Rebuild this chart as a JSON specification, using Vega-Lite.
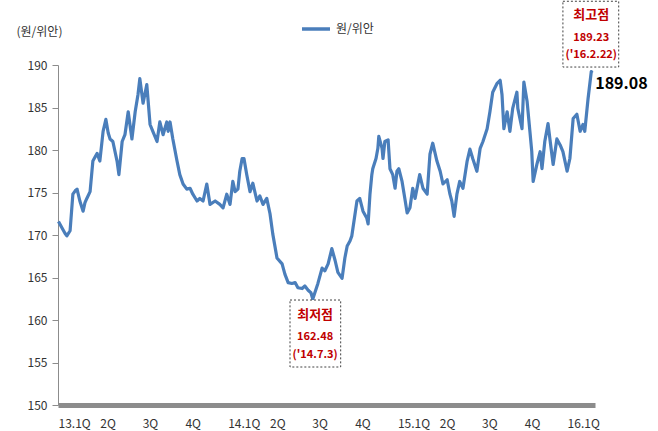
{
  "$schema": "https://vega.github.io/schema/vega-lite/v6.json",
  "width": 537,
  "height": 340,
  "autosize": {"type": "none"},
  "padding": {"left": 58, "top": 65, "right": 63, "bottom": 26},
  "background": "white",
  "config": {"view": {"stroke": null}, "font": "Noto Sans CJK KR"},
  "datasets": {
    "fx": [
      {"d":"2013-01-02","v":171.6},{"d":"2013-01-10","v":170.8},{"d":"2013-01-16","v":170.2},{"d":"2013-01-20","v":169.9},
      {"d":"2013-01-27","v":170.5},{"d":"2013-02-02","v":174.8},{"d":"2013-02-07","v":175.2},{"d":"2013-02-11","v":175.4},
      {"d":"2013-02-17","v":174.0},{"d":"2013-02-24","v":172.8},{"d":"2013-02-28","v":173.8},{"d":"2013-03-04","v":174.3},
      {"d":"2013-03-11","v":175.1},{"d":"2013-03-17","v":178.7},{"d":"2013-03-22","v":179.2},{"d":"2013-03-26","v":179.6},
      {"d":"2013-04-01","v":178.7},{"d":"2013-04-08","v":182.2},{"d":"2013-04-14","v":183.6},{"d":"2013-04-19","v":182.0},
      {"d":"2013-04-23","v":181.3},{"d":"2013-04-29","v":181.0},{"d":"2013-05-08","v":178.7},{"d":"2013-05-12","v":177.1},
      {"d":"2013-05-19","v":181.0},{"d":"2013-05-25","v":181.8},{"d":"2013-06-01","v":184.5},{"d":"2013-06-09","v":181.3},
      {"d":"2013-06-16","v":184.5},{"d":"2013-06-22","v":186.5},{"d":"2013-06-26","v":188.4},{"d":"2013-07-03","v":185.5},
      {"d":"2013-07-11","v":187.7},{"d":"2013-07-18","v":183.0},{"d":"2013-07-24","v":182.2},{"d":"2013-08-02","v":181.0},
      {"d":"2013-08-08","v":183.3},{"d":"2013-08-15","v":181.8},{"d":"2013-08-23","v":183.3},{"d":"2013-08-26","v":182.2},
      {"d":"2013-08-30","v":183.3},{"d":"2013-09-05","v":181.3},{"d":"2013-09-14","v":178.7},{"d":"2013-09-20","v":177.1},
      {"d":"2013-09-27","v":176.0},{"d":"2013-10-05","v":175.4},{"d":"2013-10-12","v":175.5},{"d":"2013-10-18","v":174.8},
      {"d":"2013-10-27","v":174.0},{"d":"2013-11-02","v":174.3},{"d":"2013-11-09","v":174.0},{"d":"2013-11-17","v":176.0},
      {"d":"2013-11-24","v":173.6},{"d":"2013-12-05","v":174.0},{"d":"2013-12-15","v":173.6},{"d":"2013-12-22","v":173.2},
      {"d":"2013-12-30","v":174.8},{"d":"2014-01-06","v":173.6},{"d":"2014-01-12","v":176.3},{"d":"2014-01-17","v":175.1},
      {"d":"2014-01-23","v":175.4},{"d":"2014-01-27","v":177.5},{"d":"2014-02-01","v":179.0},{"d":"2014-02-05","v":179.0},
      {"d":"2014-02-11","v":177.1},{"d":"2014-02-18","v":175.1},{"d":"2014-02-24","v":176.1},{"d":"2014-03-05","v":174.0},
      {"d":"2014-03-11","v":174.6},{"d":"2014-03-18","v":173.6},{"d":"2014-03-26","v":174.3},{"d":"2014-04-02","v":172.5},
      {"d":"2014-04-08","v":170.1},{"d":"2014-04-17","v":167.3},{"d":"2014-04-28","v":166.6},{"d":"2014-05-04","v":165.4},
      {"d":"2014-05-11","v":164.4},{"d":"2014-05-19","v":164.3},{"d":"2014-05-26","v":164.4},{"d":"2014-06-01","v":163.8},
      {"d":"2014-06-10","v":163.7},{"d":"2014-06-16","v":164.0},{"d":"2014-06-23","v":163.5},{"d":"2014-06-29","v":163.2},
      {"d":"2014-07-03","v":162.48},{"d":"2014-07-14","v":164.3},{"d":"2014-07-23","v":166.1},{"d":"2014-07-29","v":165.8},
      {"d":"2014-08-05","v":166.6},{"d":"2014-08-13","v":168.4},{"d":"2014-08-20","v":167.0},{"d":"2014-08-26","v":165.6},
      {"d":"2014-09-04","v":164.9},{"d":"2014-09-10","v":167.3},{"d":"2014-09-15","v":168.7},{"d":"2014-09-21","v":169.3},
      {"d":"2014-09-25","v":169.9},{"d":"2014-10-06","v":174.0},{"d":"2014-10-12","v":174.3},{"d":"2014-10-19","v":172.8},
      {"d":"2014-10-27","v":172.0},{"d":"2014-10-30","v":171.3},{"d":"2014-11-03","v":174.8},{"d":"2014-11-07","v":177.1},
      {"d":"2014-11-09","v":177.8},{"d":"2014-11-16","v":179.0},{"d":"2014-11-20","v":180.2},{"d":"2014-11-22","v":181.6},
      {"d":"2014-11-29","v":180.2},{"d":"2014-12-01","v":179.0},{"d":"2014-12-05","v":181.0},{"d":"2014-12-12","v":181.2},
      {"d":"2014-12-16","v":177.8},{"d":"2014-12-22","v":177.1},{"d":"2014-12-27","v":175.5},{"d":"2014-12-31","v":177.5},
      {"d":"2015-01-04","v":177.8},{"d":"2015-01-11","v":176.3},{"d":"2015-01-17","v":174.3},{"d":"2015-01-22","v":172.6},
      {"d":"2015-01-28","v":173.2},{"d":"2015-02-03","v":175.5},{"d":"2015-02-08","v":174.3},{"d":"2015-02-14","v":176.0},
      {"d":"2015-02-18","v":177.1},{"d":"2015-02-25","v":175.5},{"d":"2015-03-06","v":174.8},{"d":"2015-03-12","v":179.5},
      {"d":"2015-03-18","v":180.8},{"d":"2015-03-27","v":178.7},{"d":"2015-04-03","v":177.5},{"d":"2015-04-09","v":176.0},
      {"d":"2015-04-18","v":176.5},{"d":"2015-04-24","v":174.8},{"d":"2015-04-28","v":174.0},{"d":"2015-05-03","v":172.2},
      {"d":"2015-05-09","v":174.8},{"d":"2015-05-15","v":176.3},{"d":"2015-05-22","v":175.5},{"d":"2015-05-31","v":178.7},
      {"d":"2015-06-06","v":180.1},{"d":"2015-06-12","v":179.0},{"d":"2015-06-21","v":177.5},{"d":"2015-06-28","v":180.2},
      {"d":"2015-07-04","v":181.0},{"d":"2015-07-13","v":182.5},{"d":"2015-07-19","v":184.5},{"d":"2015-07-25","v":186.8},
      {"d":"2015-08-03","v":187.8},{"d":"2015-08-10","v":188.2},{"d":"2015-08-14","v":186.5},{"d":"2015-08-18","v":182.5},
      {"d":"2015-08-25","v":184.5},{"d":"2015-08-31","v":182.2},{"d":"2015-09-06","v":184.9},{"d":"2015-09-15","v":186.8},
      {"d":"2015-09-17","v":184.9},{"d":"2015-09-26","v":182.5},{"d":"2015-09-30","v":188.0},{"d":"2015-10-07","v":185.7},
      {"d":"2015-10-13","v":182.2},{"d":"2015-10-17","v":179.8},{"d":"2015-10-20","v":176.3},{"d":"2015-10-28","v":178.3},
      {"d":"2015-11-04","v":179.8},{"d":"2015-11-08","v":177.8},{"d":"2015-11-14","v":181.0},{"d":"2015-11-21","v":183.1},
      {"d":"2015-11-25","v":181.3},{"d":"2015-12-02","v":178.3},{"d":"2015-12-10","v":181.3},{"d":"2015-12-17","v":180.6},
      {"d":"2015-12-23","v":179.8},{"d":"2016-01-01","v":177.5},{"d":"2016-01-07","v":179.0},{"d":"2016-01-14","v":183.7},
      {"d":"2016-01-22","v":184.2},{"d":"2016-01-29","v":182.2},{"d":"2016-02-04","v":183.0},{"d":"2016-02-08","v":182.2},
      {"d":"2016-02-15","v":186.0},{"d":"2016-02-22","v":189.23},{"d":"2016-02-24","v":189.08}
    ],
    "boxes": [
      {"start":"2015-12-23","end":"2016-04-21","lo":189.76,"hi":197.5},
      {"start":"2014-05-15","end":"2014-09-01","lo":154.47,"hi":162.35}
    ],
    "notes": [
      {"d":"2016-02-22","v":195.88,"t":"최고점","role":"head"},
      {"d":"2016-02-22","v":193.18,"t":"189.23","role":"sub"},
      {"d":"2016-02-22","v":191.18,"t":"('16.2.22)","role":"sub"},
      {"d":"2014-07-08","v":160.59,"t":"최저점","role":"head"},
      {"d":"2014-07-08","v":158.0,"t":"162.48","role":"sub"},
      {"d":"2014-07-08","v":155.88,"t":"('14.7.3)","role":"sub"}
    ],
    "last": [{"d":"2016-02-24","v":189.08,"t":"189.08"}]
  },
  "layer": [
    {
      "data": {"name": "fx"},
      "mark": {"type": "line", "strokeWidth": 3.2, "strokeJoin": "round"},
      "encoding": {
        "x": {
          "field": "d", "type": "temporal",
          "scale": {"type": "utc", "domain": [1356998400000, 1456790400000]},
          "axis": {
            "values": [1356998400000,1364774400000,1372636800000,1380585600000,1388534400000,1396310400000,1404172800000,1412121600000,1420070400000,1427846400000,1435708800000,1443657600000,1451606400000],
            "labelExpr": "utcmonth(datum.value)==0 ? utcFormat(datum.value,'%y') + '.1Q' : (floor(utcmonth(datum.value)/3)+1) + 'Q'",
            "labelAlign": "left", "labelFlush": false, "labelOverlap": false,
            "ticks": false, "grid": false,
            "domainColor": "#8c8c8c", "domainWidth": 5,
            "labelPadding": 13, "labelFontSize": 12, "labelColor": "#333333",
            "title": null
          }
        },
        "y": {
          "field": "v", "type": "quantitative",
          "scale": {"domain": [150, 190], "nice": false, "zero": false},
          "axis": {
            "values": [150,155,160,165,170,175,180,185,190],
            "grid": false, "tickColor": "#8c8c8c", "tickSize": 6, "domainColor": "#8c8c8c",
            "labelFontSize": 12, "labelColor": "#333333", "labelPadding": 5,
            "title": "(원/위안)", "titleAngle": 0, "titleAlign": "left", "titleBaseline": "middle",
            "titleX": -42, "titleY": -34, "titleFontWeight": "normal", "titleFontSize": 12, "titleColor": "#333333"
          }
        },
        "color": {
          "datum": "원/위안",
          "scale": {"range": ["#4A7EBB"]},
          "legend": {
            "orient": "none", "legendX": 242, "legendY": -52, "title": null,
            "symbolType": "stroke", "symbolSize": 784, "symbolStrokeWidth": 3.5,
            "labelFontSize": 12, "labelColor": "#333333", "labelOffset": 4
          }
        }
      }
    },
    {
      "data": {"name": "boxes"},
      "mark": {"type": "rect", "fill": "white", "stroke": "#404040", "strokeWidth": 1, "strokeDash": [2, 2]},
      "encoding": {
        "x": {"field": "start", "type": "temporal"},
        "x2": {"field": "end"},
        "y": {"field": "hi", "type": "quantitative"},
        "y2": {"field": "lo"}
      }
    },
    {
      "data": {"name": "notes"},
      "transform": [{"filter": "datum.role == 'head'"}],
      "mark": {"type": "text", "fontSize": 13, "fontWeight": "bold", "color": "#C00000", "baseline": "middle"},
      "encoding": {
        "x": {"field": "d", "type": "temporal"},
        "y": {"field": "v", "type": "quantitative"},
        "text": {"field": "t"}
      }
    },
    {
      "data": {"name": "notes"},
      "transform": [{"filter": "datum.role == 'sub'"}],
      "mark": {"type": "text", "fontSize": 11, "fontWeight": "bold", "color": "#C00000", "baseline": "middle"},
      "encoding": {
        "x": {"field": "d", "type": "temporal"},
        "y": {"field": "v", "type": "quantitative"},
        "text": {"field": "t"}
      }
    },
    {
      "data": {"name": "last"},
      "mark": {"type": "text", "fontSize": 16, "fontWeight": "bold", "color": "#000000", "align": "left", "baseline": "middle", "dx": 3, "dy": 11},
      "encoding": {
        "x": {"field": "d", "type": "temporal"},
        "y": {"field": "v", "type": "quantitative"},
        "text": {"field": "t"}
      }
    }
  ]
}
